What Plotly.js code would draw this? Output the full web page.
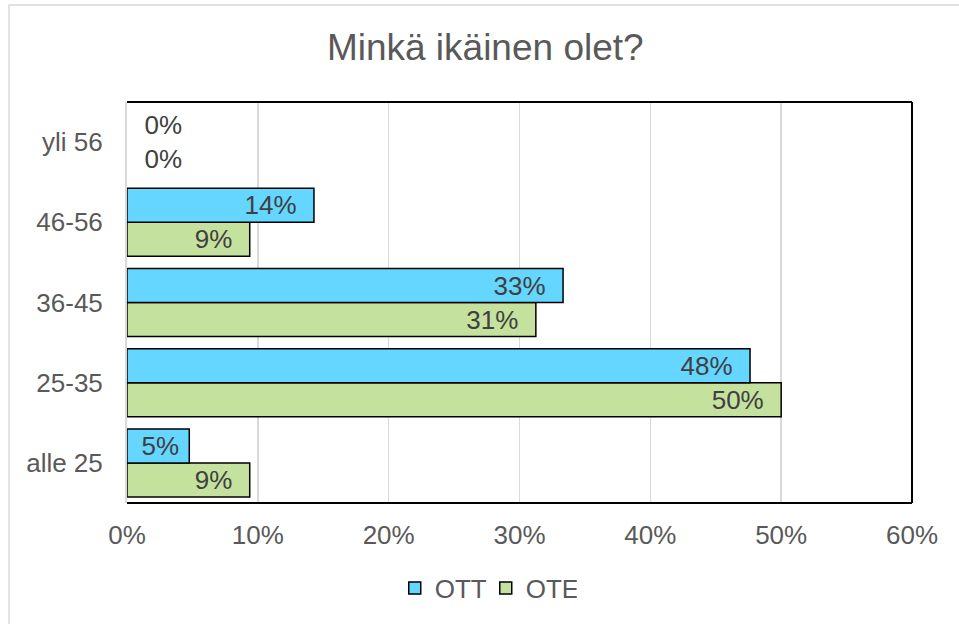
<!DOCTYPE html>
<html>
<head>
<meta charset="utf-8">
<script src="https://cdn.plot.ly/plotly-3.0.1.min.js"></script>
<style>html,body{margin:0;padding:0;background:#fff;}#chart{width:959px;height:624px;}</style>
</head>
<body>
<div id="chart"></div>
<script>
const categories = ["alle 25", "25-35", "36-45", "46-56", "yli 56"];
const ottValues = [4.76, 47.62, 33.33, 14.29, 0];
const oteValues = [9.38, 50.0, 31.25, 9.38, 0];
const xTickValues = [0, 10, 20, 30, 40, 50, 60];
const xTickLabels = ["0%", "10%", "20%", "30%", "40%", "50%", "60%"];

const NB = "\u00a0";
function labels(vals) {
  return vals.map(v => v === 0 ? NB + NB + "0%" : Math.round(v) + "%" + (v < 7 ? NB : NB + NB));
}
function positions(vals) {
  return vals.map(v => v === 0 ? "outside" : "inside");
}
function lineWidths(vals) {
  return vals.map(v => v === 0 ? 0 : 1.5);
}
const font = "Liberation Sans, Arial, sans-serif";

const ote = {
  type: "bar", orientation: "h", name: "OTE",
  y: categories, x: oteValues,
  text: labels(oteValues), textposition: positions(oteValues),
  insidetextanchor: "end", constraintext: "none", cliponaxis: false,
  textfont: {family: font, size: 26, color: "#404040"},
  marker: {color: "#C4E29E", line: {color: "#000000", width: lineWidths(oteValues)}},
  legendrank: 2, hoverinfo: "skip"
};
const ott = {
  type: "bar", orientation: "h", name: "OTT",
  y: categories, x: ottValues,
  text: labels(ottValues), textposition: positions(ottValues),
  insidetextanchor: "end", constraintext: "none", cliponaxis: false,
  textfont: {family: font, size: 26, color: "#404040"},
  marker: {color: "#64D6FF", line: {color: "#000000", width: lineWidths(ottValues)}},
  legendrank: 1, hoverinfo: "skip"
};

const layout = {
  width: 959, height: 624,
  margin: {l: 127, r: 47, t: 102, b: 121},
  paper_bgcolor: "#ffffff", plot_bgcolor: "#ffffff",
  font: {family: font, size: 26, color: "#595959"},
  title: {text: "Minkä ikäinen olet?", font: {family: font, size: 37, color: "#595959"},
          xref: "container", x: 0.506, xanchor: "center", yref: "container", y: 0.925, yanchor: "middle"},
  barmode: "group", bargap: 0.152, bargroupgap: 0,
  showlegend: true,
  legend: {orientation: "h", xref: "paper", x: 0.457, xanchor: "center", yref: "paper", y: -0.212, yanchor: "middle",
           font: {family: font, size: 26, color: "#595959"}, itemwidth: 30, entrywidth: 46, tracegroupgap: 0},
  xaxis: {range: [0, 60], tickvals: xTickValues, ticktext: xTickLabels, showgrid: true, gridcolor: "#d9d9d9", gridwidth: 1.5,
          zeroline: false, showline: false, ticks: "", ticklabelstandoff: 14, fixedrange: true,
          tickfont: {family: font, size: 26, color: "#595959"}},
  yaxis: {type: "category", categoryorder: "array", categoryarray: categories, showgrid: false, zeroline: false,
          showline: true, linecolor: "#d9d9d9", linewidth: 2, layer: "above traces", ticks: "", ticklabelstandoff: 17,
          tickfont: {family: font, size: 26, color: "#595959"}, fixedrange: true},
  shapes: [
    {type: "line", xref: "paper", yref: "paper", x0: 0, x1: 1, y0: 1, y1: 1, line: {color: "#000", width: 2}, layer: "above"},
    {type: "line", xref: "paper", yref: "paper", x0: 1, x1: 1, y0: 0, y1: 1, line: {color: "#000", width: 2}, layer: "above"},
    {type: "line", xref: "paper", yref: "paper", x0: 0, x1: 1, y0: 0, y1: 0, line: {color: "#000", width: 2}, layer: "above"},
    {type: "rect", xref: "paper", yref: "paper", x0: -0.1503, x1: 1.2, y0: -0.6, y1: 1.2419, line: {color: "#d9d9d9", width: 1.5}, layer: "below"}
  ]
};

Plotly.newPlot("chart", [ote, ott], layout, {displayModeBar: false, staticPlot: true});
</script>
</body>
</html>
